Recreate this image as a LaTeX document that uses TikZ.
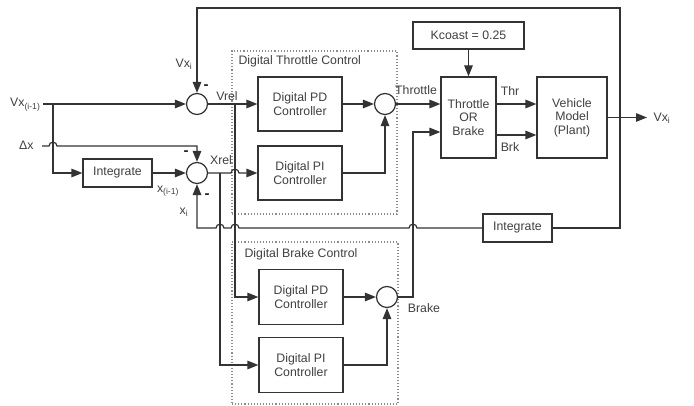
\documentclass[tikz,border=0pt]{standalone}
\usepackage{fontspec}
\setmainfont{Liberation Sans}
\usetikzlibrary{arrows.meta}
\begin{document}
\begin{tikzpicture}[x=1pt,y=-1pt,
  font=\fontsize{12.3}{13.5}\selectfont,
  line width=1.2pt,
  ln/.style={draw=black!80},
  arr/.style={ln,-{Triangle[length=11pt,width=8.5pt]}},
  blk/.style={draw=black!80,line width=1.2pt,align=center,text=black!75,inner sep=1pt},
  sum/.style={circle,draw=black!80,line width=1.2pt,minimum size=21pt,inner sep=0pt},
  frame/.style={draw=black!45,dotted,line width=1.1pt,inner sep=0pt},
  lbl/.style={text=black!75,inner sep=1pt},
  mns/.style={text=black!85,inner sep=0pt,font=\fontsize{15}{15}\selectfont\bfseries}
]
\useasboundingbox (0,0) rectangle (694,406);
\fill[white] (0,0) rectangle (694,406);

% frames
\node[frame,minimum width=165pt,minimum height=163pt] (tframe) at (314.5,132.5) {};
\node[frame,minimum width=166pt,minimum height=162pt] (bframe) at (315,323) {};
\node[lbl,anchor=west] at (237,61) {Digital Throttle Control};
\node[lbl,anchor=west] at (243,254) {Digital Brake Control};

% blocks
\node[blk,minimum width=69pt,minimum height=28pt] (int1) at (117.5,173) {Integrate};
\node[sum] (s1) at (197,104) {};
\node[sum] (s2) at (197,173) {};
\node[blk,minimum width=84pt,minimum height=54pt] (tpd) at (300,104) {Digital PD\\Controller};
\node[blk,minimum width=84pt,minimum height=54pt] (tpi) at (300,173) {Digital PI\\Controller};
\node[blk,minimum width=84pt,minimum height=55pt] (bpd) at (301,297) {Digital PD\\Controller};
\node[blk,minimum width=84pt,minimum height=55pt] (bpi) at (301,365) {Digital PI\\Controller};
\node[sum] (s3) at (385,104) {};
\node[sum] (s4) at (387,297) {};
\node[blk,minimum width=55pt,minimum height=81pt] (tob) at (468.5,117.5) {Throttle\\OR\\Brake};
\node[blk,minimum width=70pt,minimum height=81pt] (veh) at (572,117.5) {Vehicle\\Model\\(Plant)};
\node[blk,minimum width=111pt,minimum height=27pt] (kc) at (468.5,35.5) {Kcoast = 0.25};
\node[blk,minimum width=69pt,minimum height=28pt] (int2) at (517.5,228) {Integrate};

% labels
\node[lbl,anchor=base east] at (42,107) {Vx\textsubscript{(i-1)}};
\node[lbl,anchor=base east] at (35,150) {Δx};
\node[lbl] at (184,64) {Vx\textsubscript{i}};
\node[mns] at (206,87) {-};
\node[mns] at (186,153) {-};
\node[mns] at (207,196) {-};
\node[lbl] at (227,96) {Vrel};
\node[lbl] at (221,160) {Xrel};
\node[lbl] at (168,191) {x\textsubscript{(i-1)}};
\node[lbl] at (184,212) {x\textsubscript{i}};
\node[lbl] at (416,90) {Throttle};
\node[lbl] at (510,91) {Thr};
\node[lbl] at (510,147) {Brk};
\node[lbl] at (424,308) {Brake};
\node[lbl,anchor=west] at (652,118) {Vx\textsubscript{i}};

% coordinates
\coordinate (vin) at (43,104);
\coordinate (dxin) at (42,146);
\coordinate (j1) at (53,104);
\coordinate (j2) at (235,104);
\coordinate (j3) at (220,173);
\coordinate (vout) at (647,117.5);
\coordinate (yt) at (0,8);
\coordinate (yk) at (0,228);
\coordinate (yb) at (0,132);
\coordinate (ybrk) at (0,135);
\coordinate (xr) at (620,0);
\coordinate (xb) at (413,0);

% connectors
\draw[arr] (vin) -- (s1);
\draw[arr] (j1) |- (int1);
\draw[arr] (dxin) -- (49,146) .. controls (49,141) and (57,141) .. (57,146) -- (s2.north |- dxin) -- (s2);
\draw[arr] (int1) -- (s2);
\draw[arr] (int2) -- (xr |- yk) -- (xr |- yt) -| (s1);
\draw[arr] (veh) -- (vout);
\draw[arr] (int2) -- (417,228) .. controls (417,223) and (409,223) .. (409,228)
  -- (239,228) .. controls (239,223) and (231,223) .. (231,228)
  -- (224,228) .. controls (224,223) and (216,223) .. (216,228)
  -- (s2 |- yk) -- (s2);
\draw[arr] (s1) -- (tpd);
\draw[arr] (j2) |- (bpd);
\draw[arr] (s2) -- (231,173) .. controls (231,168) and (239,168) .. (239,173) -- (tpi);
\draw[arr] (j3) |- (bpi);
\draw[arr] (tpd) -- (s3);
\draw[arr] (tpi) -| (s3);
\draw[arr] (s3) -- (tob.west |- s3);
\draw[arr] (kc) -- (tob);
\draw[arr] (tob.east |- s3) -- (veh.west |- s3);
\draw[arr] (tob.east |- ybrk) -- (veh.west |- ybrk);
\draw[arr] (bpd) -- (s4);
\draw[arr] (bpi) -| (s4);
\draw[arr] (s4) -- (xb |- s4) -- (xb |- yb) -- (tob.west |- yb);
\end{tikzpicture}
\end{document}
